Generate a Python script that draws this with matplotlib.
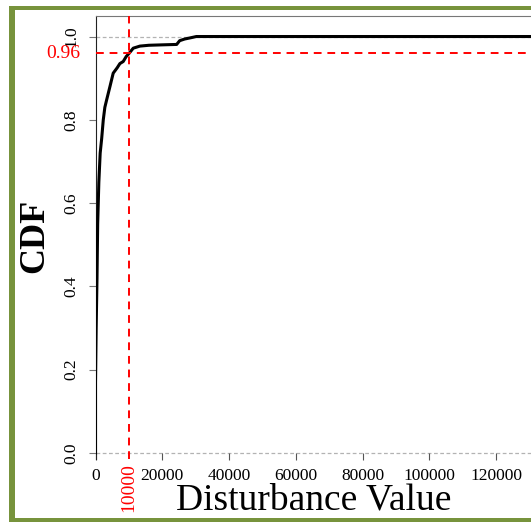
import matplotlib
matplotlib.use('Agg')
import matplotlib.pyplot as plt
from matplotlib.patches import Rectangle

# ECDF of disturbance values
disturbance = [0, 0, 200, 450, 650, 1000, 1400, 1850, 2330, 2800, 3340, 4330,
               5300, 6500, 7300, 8300, 9200, 10100, 11300, 13300, 16000, 20000,
               24300, 25200, 26700, 28500, 30200, 140000]
cdf = [0.0, 0.17, 0.30, 0.42, 0.55, 0.65, 0.72, 0.755, 0.80, 0.83, 0.848, 0.88,
       0.912, 0.925, 0.935, 0.94, 0.952, 0.96, 0.972, 0.977, 0.979, 0.98,
       0.981, 0.99, 0.994, 0.997, 1.0, 1.0]
x_ticks = [0, 20000, 40000, 60000, 80000, 100000, 120000]
y_ticks = [0.0, 0.2, 0.4, 0.6, 0.8, 1.0]
cut_x = 10000
cut_y = 0.96

W, H = 531, 523
plt.rcParams['font.family'] = ['Liberation Serif', 'DejaVu Serif']
fig = plt.figure(figsize=(W / 100, H / 100), dpi=100)

# axes placed in pixel terms; right edge runs just past the image like the crop
left, right, top, bottom = 95.5, 532, 15.7, 459.2
ax = fig.add_axes([left / W, 1 - bottom / H, (right - left) / W, (bottom - top) / H])
ax.set_xlim(0, 130700)
ax.set_ylim(-0.015, 1.05)

ax.axhline(0, color='#b3b3b3', lw=0.9, ls=(0, (3, 2)), zorder=1)
ax.axhline(1, color='#b3b3b3', lw=0.9, ls=(0, (3, 2)), zorder=1)
ax.plot(disturbance, cdf, color='black', lw=2.2, zorder=3)
ax.axhline(cut_y, color='red', lw=1.4, ls=(0, (4, 3)), zorder=4)
ax.axvline(cut_x, color='red', lw=1.4, ls=(0, (4, 3)), zorder=4)

for s in ['right', 'bottom']:
    ax.spines[s].set_color('none')
ax.spines['bottom'].set_position(('data', 0))
ax.spines['top'].set_color('#777777')
ax.spines['left'].set_color('#222222')

ax.set_xticks(x_ticks)
ax.set_xticklabels([str(v) for v in x_ticks])
ax.set_yticks(y_ticks)
ax.set_yticklabels(['%.1f' % v for v in y_ticks], rotation=90, va='center')
ax.tick_params(axis='x', length=5, width=0.8, color='#555555', pad=5.5, labelsize=12.5)
ax.tick_params(axis='y', length=5, width=0.8, color='#777777', pad=6.5, labelsize=12.5)

ax.annotate('0.96', xy=(0, cut_y), xycoords=('axes fraction', 'data'),
            xytext=(-11, 0), textcoords='offset points', ha='right', va='center',
            color='red', fontsize=14, annotation_clip=False)
ax.annotate('10000', xy=(cut_x, 0), xycoords='data',
            xytext=(0, -7), textcoords='offset points', ha='center', va='top',
            rotation=90, color='red', fontsize=14, annotation_clip=False)

fig.text(35 / W, 1 - 236 / H, 'CDF', rotation=90, ha='center', va='center',
         fontsize=26, fontweight='bold')
fig.text(314 / W, 1 - 509 / H, 'Disturbance Value', ha='center', va='baseline',
         fontsize=27)

# olive frame of the screenshot (right side is cropped off)
green = '#77933c'
for x0, y0, w, h in [(9, 6, 6, 516), (9, 6, W - 9, 4), (9, 518, W - 9, 4)]:
    fig.add_artist(Rectangle((x0 / W, 1 - (y0 + h) / H), w / W, h / H,
                             transform=fig.transFigure, color=green, lw=0))

fig.savefig('out.png', dpi=100)
